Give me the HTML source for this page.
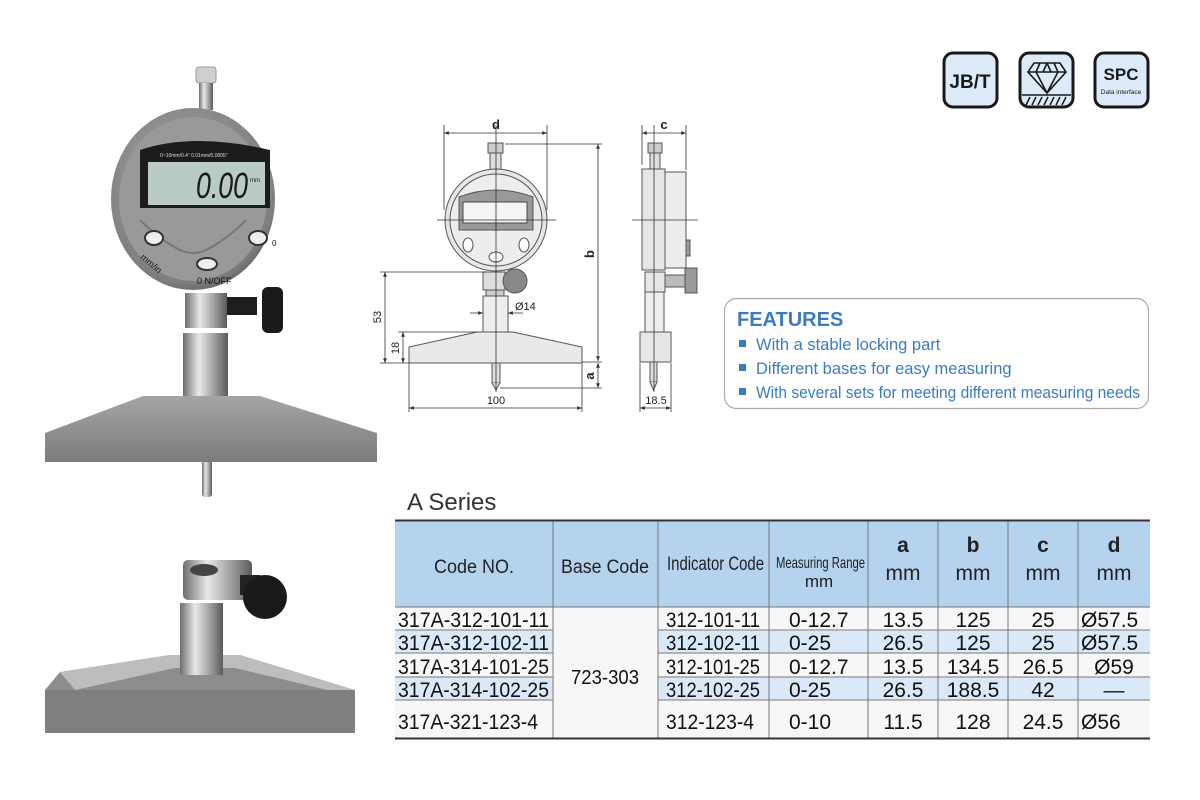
<!DOCTYPE html>
<html><head><meta charset="utf-8"><style>
html,body{margin:0;padding:0;background:#fff;}
svg{display:block;font-family:"Liberation Sans",sans-serif;}
</style></head><body>
<svg width="1200" height="800" viewBox="0 0 1200 800" xmlns="http://www.w3.org/2000/svg">
<defs>
<linearGradient id="metal" x1="0" x2="1" y1="0" y2="0">
<stop offset="0" stop-color="#6e6e6e"/><stop offset="0.35" stop-color="#e8e8e8"/><stop offset="0.6" stop-color="#b5b5b5"/><stop offset="1" stop-color="#5a5a5a"/></linearGradient>
<radialGradient id="bezel" cx="0.45" cy="0.4" r="0.7"><stop offset="0" stop-color="#a8a8a8"/><stop offset="0.8" stop-color="#7e7e7e"/><stop offset="1" stop-color="#4a4a4a"/></radialGradient>
<linearGradient id="base" x1="0" x2="0" y1="0" y2="1"><stop offset="0" stop-color="#a5a5a5"/><stop offset="1" stop-color="#7c7c7c"/></linearGradient>
<marker id="ar" viewBox="0 0 10 10" refX="10" refY="5" markerWidth="6" markerHeight="6" orient="auto-start-reverse"><path d="M0,1 L10,5 L0,9 z" fill="#333"/></marker>
</defs>

<!-- ===== Photo 1 ===== -->
<rect x="196" y="67" width="20" height="16" rx="3" fill="#cfcfcf" stroke="#999"/>
<rect x="199" y="83" width="14" height="27" fill="url(#metal)"/>
<ellipse cx="193" cy="199" rx="82" ry="91" fill="url(#bezel)"/>
<ellipse cx="193" cy="199" rx="74" ry="82" fill="#999"/>
<path d="M140,150 Q193,132 270,150 L270,208 L140,208 Z" fill="#1c1c1c"/>
<rect x="148" y="162" width="117" height="43" fill="#b9cbc2"/>
<text x="160" y="157" font-size="5" fill="#ddd">0~10mm/0.4"    0.01mm/0.0005"</text>
<text x="196" y="198" font-size="36" font-style="italic" fill="#1a1a1a" textLength="52" lengthAdjust="spacingAndGlyphs">0.00</text>
<text x="250" y="182" font-size="6" fill="#222">mm</text>
<path d="M140,220 Q160,240 180,250 Q193,256 206,250 Q226,240 246,220" fill="none" stroke="#777" stroke-width="2"/>
<ellipse cx="154" cy="238" rx="9" ry="7" fill="#eee" stroke="#333" stroke-width="2"/>
<ellipse cx="258" cy="238" rx="9" ry="7" fill="#eee" stroke="#333" stroke-width="2"/>
<ellipse cx="207" cy="264" rx="10" ry="6" fill="#eee" stroke="#333" stroke-width="2"/>
<text x="197" y="284" font-size="9" fill="#111">0 N/OFF</text>
<text x="140" y="258" font-size="9" fill="#111" transform="rotate(40 140 258)">mm/in</text>
<text x="272" y="246" font-size="8" fill="#111">0</text>
<rect x="227" y="297" width="30" height="18" fill="#1e1e1e"/>
<rect x="262" y="287" width="21" height="46" rx="6" fill="#1a1a1a"/>
<rect x="185" y="293" width="42" height="35" fill="url(#metal)"/>
<rect x="183" y="333" width="45" height="64" fill="url(#metal)"/>
<rect x="202" y="460" width="10" height="37" rx="3" fill="url(#metal)"/>
<polygon points="143,396 260,396 377,433 377,462 45,462 45,433" fill="url(#base)"/>

<!-- ===== Photo 2 ===== -->
<polygon points="60,672 170,655 240,655 355,690 355,733 45,733 45,690" fill="#8d8d8d"/>
<polygon points="60,672 170,655 240,655 355,690 340,693 235,668 175,668 75,690" fill="#bdbdbd"/>
<polygon points="45,690 355,690 355,733 45,733" fill="#7f7f7f"/>
<rect x="180" y="603" width="43" height="72" fill="url(#metal)"/>
<rect x="183" y="560" width="69" height="40" rx="5" fill="url(#metal)"/>
<ellipse cx="204" cy="570" rx="14" ry="6" fill="#444"/>
<rect x="240" y="575" width="20" height="20" fill="#222"/>
<circle cx="265" cy="597" r="22" fill="#1a1a1a"/>

<!-- ===== Icons ===== -->
<g stroke="#1a1a1a" stroke-width="3" fill="#ddeaf8">
<rect x="944" y="53" width="53" height="54" rx="9"/>
<rect x="1020" y="53" width="53" height="54" rx="9"/>
<rect x="1095" y="53" width="53" height="54" rx="9"/>
</g>
<text x="970" y="88" font-size="19" font-weight="bold" text-anchor="middle" fill="#1a1a1a">JB/T</text>
<text x="1121" y="80" font-size="17" font-weight="bold" text-anchor="middle" fill="#1a1a1a">SPC</text>
<text x="1121" y="94" font-size="6.5" text-anchor="middle" fill="#1a1a1a">Data interface</text>
<path d="M1034,63 L1060,63 L1066,72 L1047,93 L1028,72 Z M1028,72 L1066,72 M1040,63 L1036,72 L1047,93 L1058,72 L1054,63 M1047,63 L1043,72 M1047,63 L1051,72" fill="none" stroke="#1a1a1a" stroke-width="1.6"/>
<line x1="1022" y1="95" x2="1071" y2="95" stroke="#1a1a1a" stroke-width="1.5"/>
<path d="M1026,105 l4,-8 M1032,105 l4,-8 M1038,105 l4,-8 M1044,105 l4,-8 M1050,105 l4,-8 M1056,105 l4,-8 M1062,105 l4,-8" stroke="#1a1a1a" stroke-width="1.5"/>

<!-- ===== Drawing front ===== -->
<g stroke="#555" stroke-width="1" fill="#e6e6e6">
<rect x="488" y="143" width="15" height="10" fill="#ccc"/>
<rect x="490" y="153" width="11" height="17" fill="#ddd"/>
<circle cx="496" cy="220" r="51"/>
<circle cx="496" cy="220" r="46" fill="#ededed"/>
<path d="M459,197 Q496,183 533,197 L533,230 L459,230 Z" fill="#999"/>
<rect x="463" y="202" width="64" height="21" fill="#f4f4f4" stroke="#444"/>
<ellipse cx="468" cy="245" rx="5" ry="7" fill="#fff"/>
<ellipse cx="524" cy="245" rx="5" ry="7" fill="#fff"/>
<ellipse cx="496" cy="257" rx="7" ry="5" fill="#fff"/>
<rect x="483" y="272" width="22" height="18" fill="#ddd"/>
<circle cx="515" cy="281" r="12" fill="#888"/>
<rect x="486" y="290" width="18" height="6" fill="#ccc"/>
<rect x="483" y="296" width="25" height="36" fill="#eee"/>
<polygon points="477,332 513,332 582,347 582,363 409,363 409,347" fill="#e9e9e9"/>
<rect x="492" y="363" width="8" height="20" fill="#ddd"/>
<path d="M492,383 L496,390 L500,383" fill="#ddd"/>
</g>
<g stroke="#333" stroke-width="0.8" fill="none">
<line x1="496" y1="125" x2="496" y2="392"/>
<line x1="437" y1="220" x2="556" y2="220"/>
<line x1="444" y1="125" x2="444" y2="210"/>
<line x1="547" y1="125" x2="547" y2="210"/>
<line x1="444" y1="133" x2="547" y2="133" marker-start="url(#ar)" marker-end="url(#ar)"/>
<line x1="505" y1="144" x2="602" y2="144"/>
<line x1="582" y1="362" x2="602" y2="362"/>
<line x1="500" y1="388" x2="602" y2="388"/>
<line x1="598" y1="144" x2="598" y2="361" marker-start="url(#ar)" marker-end="url(#ar)"/>
<line x1="598" y1="363" x2="598" y2="388" marker-start="url(#ar)" marker-end="url(#ar)"/>
<line x1="409" y1="363" x2="409" y2="412"/>
<line x1="582" y1="363" x2="582" y2="412"/>
<line x1="409" y1="408" x2="582" y2="408" marker-start="url(#ar)" marker-end="url(#ar)"/>
<line x1="380" y1="272" x2="487" y2="272"/>
<line x1="380" y1="363" x2="409" y2="363"/>
<line x1="385" y1="272" x2="385" y2="363" marker-start="url(#ar)" marker-end="url(#ar)"/>
<line x1="398" y1="332" x2="477" y2="332"/>
<line x1="403" y1="332" x2="403" y2="363" marker-start="url(#ar)" marker-end="url(#ar)"/>
<line x1="470" y1="313" x2="483" y2="313" marker-end="url(#ar)"/>
<line x1="523" y1="313" x2="508" y2="313" marker-end="url(#ar)"/>
</g>
<g font-size="11" fill="#222">
<text x="496" y="129" font-size="13" font-weight="bold" text-anchor="middle">d</text>
<text x="664" y="129" font-size="13" font-weight="bold" text-anchor="middle">c</text>
<text x="594" y="254" font-size="13" font-weight="bold" transform="rotate(-90 594 254)" text-anchor="middle">b</text>
<text x="594" y="376" font-size="13" font-weight="bold" transform="rotate(-90 594 376)" text-anchor="middle">a</text>
<text x="496" y="404" text-anchor="middle">100</text>
<text x="656" y="404" text-anchor="middle">18.5</text>
<text x="381" y="317" transform="rotate(-90 381 317)" text-anchor="middle">53</text>
<text x="399" y="348" transform="rotate(-90 399 348)" text-anchor="middle">18</text>
<text x="515" y="310">Ø14</text>
</g>

<!-- ===== Drawing side ===== -->
<g stroke="#555" stroke-width="1" fill="#e6e6e6">
<rect x="648" y="143" width="14" height="10" fill="#ccc"/>
<rect x="650" y="153" width="10" height="17" fill="#ddd"/>
<rect x="642" y="169" width="23" height="101"/>
<rect x="665" y="172" width="21" height="96" fill="#ededed"/>
<rect x="686" y="240" width="4" height="16" fill="#999"/>
<rect x="645" y="272" width="20" height="20"/>
<rect x="665" y="275" width="20" height="12" fill="#bbb"/>
<rect x="685" y="268" width="12" height="25" fill="#999"/>
<rect x="645" y="292" width="19" height="40" fill="#eee"/>
<rect x="640" y="332" width="31" height="30"/>
<rect x="650" y="362" width="7" height="20" fill="#ddd"/>
<path d="M650,382 L653.5,390 L657,382" fill="#ddd"/>
</g>
<g stroke="#333" stroke-width="0.8" fill="none">
<line x1="654" y1="125" x2="654" y2="392"/>
<line x1="632" y1="220" x2="698" y2="220"/>
<line x1="642" y1="125" x2="642" y2="165"/>
<line x1="686" y1="125" x2="686" y2="170"/>
<line x1="642" y1="133" x2="686" y2="133" marker-start="url(#ar)" marker-end="url(#ar)"/>
<line x1="640" y1="363" x2="640" y2="412"/>
<line x1="671" y1="363" x2="671" y2="412"/>
<line x1="640" y1="408" x2="671" y2="408" marker-start="url(#ar)" marker-end="url(#ar)"/>
</g>

<!-- ===== Features ===== -->
<rect x="724.5" y="298.5" width="424" height="110" rx="12" fill="#fff" stroke="#aaa" stroke-width="1.2"/>
<text x="737" y="326" font-size="20" font-weight="bold" fill="#3a7cc0">FEATURES</text>
<g font-size="16.5" fill="#3a7cc0">
<rect x="739" y="340" width="7" height="7"/><text x="756" y="350">With a stable locking part</text>
<rect x="739" y="364" width="7" height="7"/><text x="756" y="374">Different bases for easy measuring</text>
<rect x="739" y="388" width="7" height="7"/><text x="756" y="398" textLength="384" lengthAdjust="spacingAndGlyphs">With several sets for meeting different measuring needs</text>
</g>

<!-- ===== Table ===== -->
<text x="407" y="510" font-size="24" fill="#333">A Series</text>
<rect x="395" y="521" width="755" height="86" fill="#b5d2ef"/>
<rect x="395" y="607" width="755" height="23" fill="#f7f7f7"/>
<rect x="395" y="630" width="755" height="23" fill="#d9e9f8"/>
<rect x="395" y="653" width="755" height="24" fill="#f7f7f7"/>
<rect x="395" y="677" width="755" height="23" fill="#d9e9f8"/>
<rect x="395" y="700" width="755" height="38" fill="#f7f7f7"/>
<rect x="553" y="607" width="105" height="131" fill="#f7f7f7"/>
<g stroke="#777" stroke-width="1">
<line x1="395" y1="607" x2="1150" y2="607"/>
<line x1="395" y1="630" x2="553" y2="630"/><line x1="658" y1="630" x2="1150" y2="630"/>
<line x1="395" y1="653" x2="553" y2="653"/><line x1="658" y1="653" x2="1150" y2="653"/>
<line x1="395" y1="677" x2="553" y2="677"/><line x1="658" y1="677" x2="1150" y2="677"/>
<line x1="395" y1="700" x2="553" y2="700"/><line x1="658" y1="700" x2="1150" y2="700"/>
<line x1="553" y1="521" x2="553" y2="738"/>
<line x1="658" y1="521" x2="658" y2="738"/>
<line x1="769" y1="521" x2="769" y2="738"/>
<line x1="868" y1="521" x2="868" y2="738"/>
<line x1="938" y1="521" x2="938" y2="738"/>
<line x1="1008" y1="521" x2="1008" y2="738"/>
<line x1="1078" y1="521" x2="1078" y2="738"/>
</g>
<line x1="395" y1="520.5" x2="1150" y2="520.5" stroke="#333" stroke-width="2"/>
<line x1="395" y1="738.5" x2="1150" y2="738.5" stroke="#333" stroke-width="2"/>
<g fill="#222" font-size="19">
<text x="474" y="573" text-anchor="middle" textLength="80" lengthAdjust="spacingAndGlyphs">Code NO.</text>
<text x="605" y="573" text-anchor="middle" textLength="88" lengthAdjust="spacingAndGlyphs">Base Code</text>
<text x="667" y="570" textLength="97" lengthAdjust="spacingAndGlyphs">Indicator Code</text>
<text x="776" y="568" font-size="16" textLength="89" lengthAdjust="spacingAndGlyphs">Measuring Range</text>
<text x="819" y="587" font-size="17" text-anchor="middle">mm</text>
<g font-size="21" text-anchor="middle">
<text x="903" y="552" font-weight="bold">a</text><text x="903" y="580">mm</text>
<text x="973" y="552" font-weight="bold">b</text><text x="973" y="580">mm</text>
<text x="1043" y="552" font-weight="bold">c</text><text x="1043" y="580">mm</text>
<text x="1114" y="552" font-weight="bold">d</text><text x="1114" y="580">mm</text>
</g>
</g>
<g fill="#111" font-size="21">
<text x="398" y="627" textLength="151" lengthAdjust="spacingAndGlyphs">317A-312-101-11</text>
<text x="398" y="650" textLength="151" lengthAdjust="spacingAndGlyphs">317A-312-102-11</text>
<text x="398" y="674" textLength="151" lengthAdjust="spacingAndGlyphs">317A-314-101-25</text>
<text x="398" y="697" textLength="151" lengthAdjust="spacingAndGlyphs">317A-314-102-25</text>
<text x="398" y="729" textLength="140" lengthAdjust="spacingAndGlyphs">317A-321-123-4</text>
<text x="605" y="684" text-anchor="middle" font-size="20" textLength="68" lengthAdjust="spacingAndGlyphs">723-303</text>
<text x="666" y="627" textLength="94" lengthAdjust="spacingAndGlyphs">312-101-11</text>
<text x="666" y="650" textLength="94" lengthAdjust="spacingAndGlyphs">312-102-11</text>
<text x="666" y="674" textLength="94" lengthAdjust="spacingAndGlyphs">312-101-25</text>
<text x="666" y="697" textLength="94" lengthAdjust="spacingAndGlyphs">312-102-25</text>
<text x="666" y="729" textLength="88" lengthAdjust="spacingAndGlyphs">312-123-4</text>
<text x="789" y="627">0-12.7</text>
<text x="789" y="650">0-25</text>
<text x="789" y="674">0-12.7</text>
<text x="789" y="697">0-25</text>
<text x="789" y="729">0-10</text>
<g text-anchor="middle">
<text x="903" y="627">13.5</text><text x="903" y="650">26.5</text><text x="903" y="674">13.5</text><text x="903" y="697">26.5</text><text x="903" y="729">11.5</text>
<text x="973" y="627">125</text><text x="973" y="650">125</text><text x="973" y="674">134.5</text><text x="973" y="697">188.5</text><text x="973" y="729">128</text>
<text x="1043" y="627">25</text><text x="1043" y="650">25</text><text x="1043" y="674">26.5</text><text x="1043" y="697">42</text><text x="1043" y="729">24.5</text>
<text x="1114" y="674">Ø59</text>
<text x="1114" y="697">—</text>
</g>
<text x="1081" y="627">Ø57.5</text>
<text x="1081" y="650">Ø57.5</text>
<text x="1081" y="729">Ø56</text>
</g>
</svg>
</body></html>
